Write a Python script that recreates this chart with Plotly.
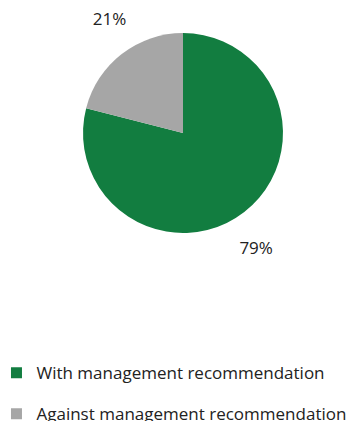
import plotly.graph_objects as go

categories = ["With management recommendation", "Against management recommendation"]
values = [79, 21]
colors = ["#127d40", "#a6a6a6"]

fig = go.Figure()
# visible pie
fig.add_trace(go.Pie(
    labels=categories, values=values, sort=False, direction="clockwise", rotation=0,
    marker=dict(colors=colors, line=dict(width=0)),
    textinfo="none", showlegend=False, hoverinfo="skip",
    domain=dict(x=[0.2358, 0.804], y=[0.4466, 0.9216]),
))
# transparent pie carrying the outside percentage labels
fig.add_trace(go.Pie(
    labels=categories, values=values, sort=False, direction="clockwise", rotation=12,
    marker=dict(colors=["rgba(0,0,0,0)"] * len(values), line=dict(width=0)),
    texttemplate="%{percent:.0%}", textposition="outside",
    textfont=dict(family="Open Sans", size=17, color="#222222"),
    showlegend=False, hoverinfo="skip",
    domain=dict(x=[0.188, 0.851], y=[0.4066, 0.9616]),
))
for i, (c, col) in enumerate(zip(categories, colors)):
    fig.add_trace(go.Scatter(
        x=[None], y=[None], mode="markers", name=c, legendgroup=str(i),
        marker=dict(symbol="square", size=11, color=col),
    ))

fig.update_layout(
    width=352, height=421,
    margin=dict(l=0, r=0, t=0, b=0, autoexpand=False),
    paper_bgcolor="white", plot_bgcolor="white",
    font=dict(family="Open Sans", color="#222222"),
    xaxis=dict(visible=False), yaxis=dict(visible=False),
    legend=dict(
        x=-0.01, y=0.1565, xanchor="left", yanchor="top",
        font=dict(family="Open Sans", size=17, color="#222222"),
        tracegroupgap=16, traceorder="grouped", itemwidth=30,
    ),
)
fig.write_html("out.html")
